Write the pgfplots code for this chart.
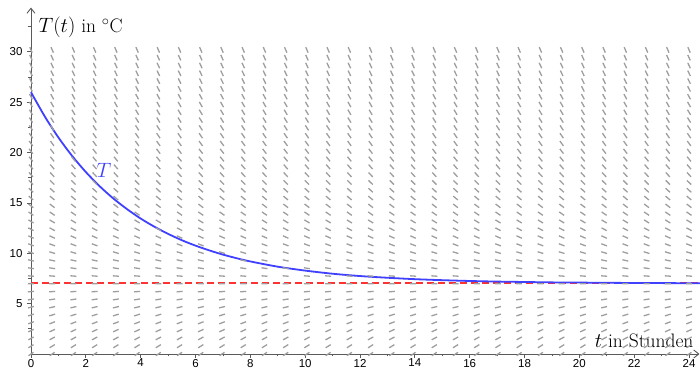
\documentclass[border=0pt]{standalone}
\usepackage{fontspec}
\usepackage{pgfplots}
\usepackage{pgfplotstable}
\pgfplotsset{compat=1.18}
\usetikzlibrary{arrows.meta}
\newfontfamily\tickfont{Liberation Sans}
\definecolor{fieldgray}{RGB}{158,158,158}
\definecolor{curveblue}{RGB}{64,64,255}
\definecolor{limitred}{RGB}{255,50,50}
\definecolor{axisgray}{RGB}{90,90,90}

% slope field rows: temperature T, slope m = dT/dt, and the on-screen angle of the segment (degrees)
\pgfplotstableread{
T m ang
0.000 1.890 34.76
0.774 1.681 31.69
1.548 1.472 28.39
2.323 1.263 24.88
3.097 1.054 21.16
3.871 0.845 17.24
4.645 0.636 13.14
5.419 0.427 8.91
6.194 0.218 4.58
6.968 0.009 0.19
7.742 -0.200 -4.20
8.516 -0.409 -8.54
9.290 -0.618 -12.78
10.065 -0.828 -16.91
10.839 -1.037 -20.85
11.613 -1.246 -24.59
12.387 -1.455 -28.11
13.161 -1.664 -31.43
13.935 -1.873 -34.52
14.710 -2.082 -37.40
15.484 -2.291 -40.07
16.258 -2.500 -42.55
17.032 -2.709 -44.85
17.806 -2.918 -46.98
18.581 -3.127 -48.95
19.355 -3.336 -50.78
20.129 -3.545 -52.47
20.903 -3.754 -54.04
21.677 -3.963 -55.51
22.452 -4.172 -56.87
23.226 -4.381 -58.13
24.000 -4.590 -59.32
24.774 -4.799 -60.42
25.548 -5.008 -61.46
26.323 -5.217 -62.44
27.097 -5.426 -63.35
27.871 -5.635 -64.21
28.645 -5.844 -65.01
29.419 -6.053 -65.78
30.194 -6.262 -66.50
}\fieldrows

\pgfplotstableread{
t T
0 26.00
0.5 23.60
1 21.50
1.5 19.67
2 18.07
2.5 16.67
3 15.45
3.5 14.39
4 13.45
4.5 12.64
5 11.93
5.5 11.30
6 10.76
6.5 10.29
7 9.87
7.5 9.51
8 9.19
9 8.67
10 8.28
11 7.97
12 7.74
13 7.57
14 7.43
15 7.33
16 7.25
17 7.19
18 7.15
19 7.11
20 7.09
21 7.07
22 7.05
23 7.04
24 7.03
24.4 7.03
}\curve

\pgfplotstableread{
t T
0 7
24.4 7
}\limitline

\begin{document}
\begin{tikzpicture}
\begin{axis}[
  at={(0,0)}, anchor=south west,
  scale only axis, width=700pt, height=369pt,
  xmin=-1.13, xmax=24.4, ymin=-1.49, ymax=35.15,
  axis lines=middle, axis line style={draw=none},
  xtick={0,2,...,24}, ytick={5,10,...,30},
  minor xtick={1,3,...,23}, minor ytick={2.5,7.5,...,32.5},
  hide obscured x ticks=false, hide obscured y ticks=false,
  tick align=outside,
  major tick length=4pt, minor tick length=2.5pt,
  tick style={axisgray, line width=0.8pt},
  /pgf/number format/assume math mode=true,
  xticklabel style={font=\tickfont\fontsize{11.5}{13}\selectfont, text=black, yshift=2.5pt},
  yticklabel style={font=\tickfont\fontsize{11.5}{13}\selectfont, text=black, xshift=-1pt},
  clip=false,
]
\draw[axisgray, line width=0.9pt, -{Straight Barb[length=5pt,width=8pt]}] (axis cs:0,0) -- (axis cs:24.38,0);
\draw[axisgray, line width=0.9pt, -{Straight Barb[length=5pt,width=8pt]}] (axis cs:0,0) -- (axis cs:0,34.4);
\pgfplotsinvokeforeach{0,0.7742,1.5484,2.3226,3.0968,3.8710,4.6452,5.4194,6.1935,6.9677,7.7419,8.5161,9.2903,10.0645,10.8387,11.6129,12.3871,13.1613,13.9355,14.7097,15.4839,16.2581,17.0323,17.8065,18.5806,19.3548,20.1290,20.9032,21.6774,22.4516,23.2258,24.0000}{
  \addplot[scatter, only marks, mark=-, mark size=3pt, line width=1.3pt,
    scatter/use mapped color={draw=fieldgray, fill=fieldgray},
    visualization depends on={\thisrow{ang} \as \segang},
    scatter/@pre marker code/.append style={/tikz/rotate=\segang}]
    table[x expr={#1}, y=T] {\fieldrows};
}
\addplot[color=limitred, line width=2pt, dash pattern=on 7pt off 4pt, mark=none] table[x=t, y=T] {\limitline};
\addplot[color=curveblue, line width=1.8pt, smooth, mark=none] table[x=t, y=T] {\curve};
\node[anchor=base west, font=\fontsize{19.5}{22}\selectfont] at (axis cs:0.15,31.9) {$T(t)$ in $^\circ$C};
\node[anchor=base east, font=\fontsize{19.5}{22}\selectfont] at (axis cs:24.29,0.6) {$t$ in Stunden};
\node[text=curveblue, font=\fontsize{19.5}{22}\selectfont] at (axis cs:2.66,18.2) {$T$};
\end{axis}
\pgfresetboundingbox
\path[use as bounding box] (0,0) rectangle (700pt,369pt);
\end{tikzpicture}
\end{document}
